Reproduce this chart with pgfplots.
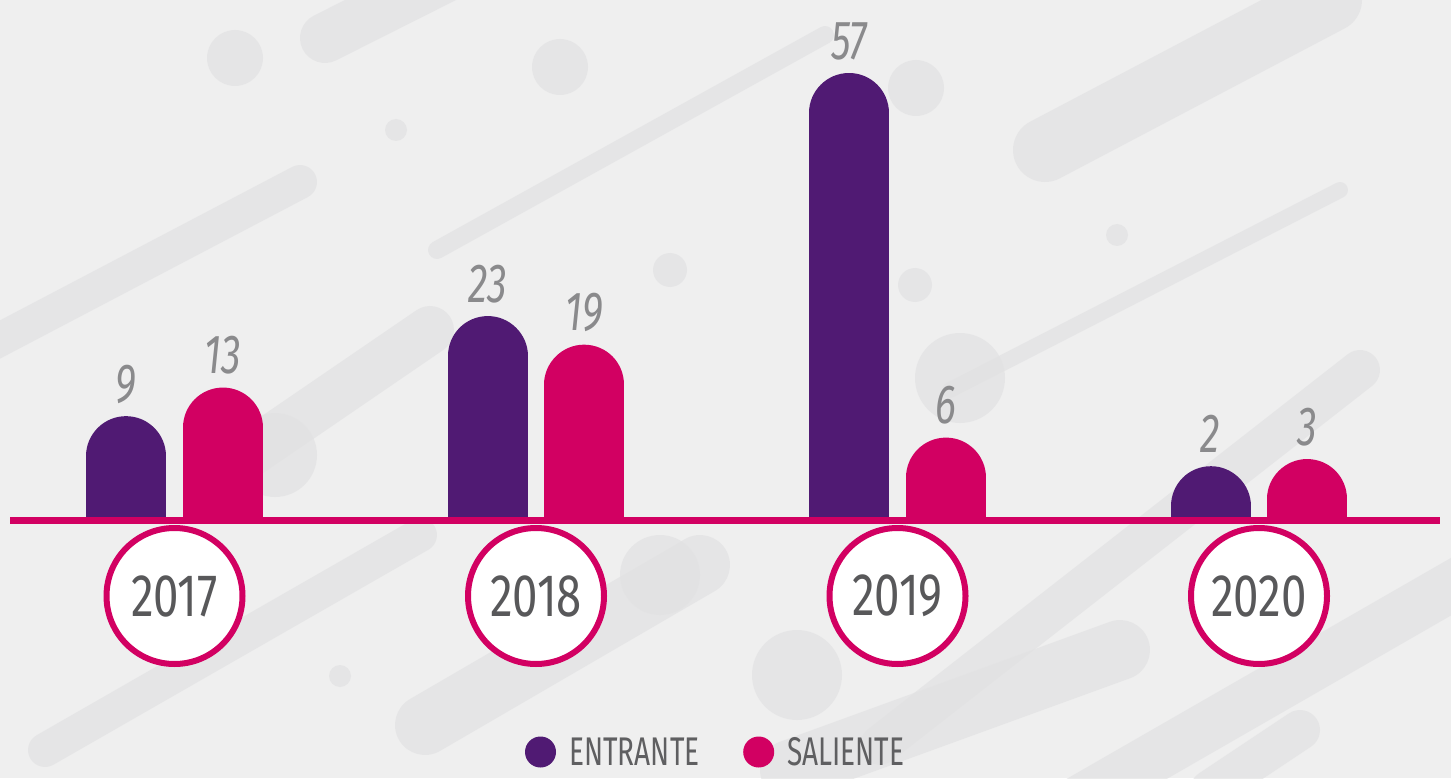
\documentclass[border=0pt]{standalone}
\usepackage{pgfplots}
\pgfplotsset{compat=1.18}
\usepackage{pgfplotstable}
\usepackage{fontspec}
\newfontfamily\valfont[FakeStretch=0.72]{Fira Sans}
\newfontfamily\yearfont[FakeStretch=0.76]{Fira Sans}
\newfontfamily\legfont[FakeStretch=0.7]{Fira Sans}
\definecolor{cpurple}{HTML}{501A73}
\definecolor{cmag}{HTML}{D20062}
\definecolor{valgray}{HTML}{8A8A8C}
\definecolor{yeargray}{HTML}{58585A}
\definecolor{leggray}{HTML}{5F5F61}
\definecolor{bgc}{HTML}{EFEFEF}
\definecolor{deco}{HTML}{E2E2E3}
\pgfplotstableread{
year entrante saliente
2017 9 13
2018 23 19
2019 57 6
2020 2 3
}\datatab
\begin{document}
\begin{tikzpicture}
\useasboundingbox (0,0) rectangle (725.5pt,389pt);
\fill[bgc] (0,0) rectangle (725.5pt,389pt);
\begin{scope}[shift={(0,389pt)},x=0.5pt,y=-0.5pt]
 \begin{scope}[draw=deco, fill=deco, opacity=0.7, line cap=round]
  \draw[line width=25pt] (325,38) -- (480,-40);
  \draw[line width=17pt] (-20,350) -- (300,182);
  \draw[line width=9pt] (437,250) -- (825,35);
  \draw[line width=32pt] (1045,150) -- (1330,0);
  \draw[line width=8pt] (950,390) -- (1340,190);
  \draw[line width=24pt] (240,460) -- (430,330);
  \draw[line width=17pt] (45,750) -- (420,535);
  \draw[line width=30pt] (425,725) -- (700,565);
  \draw[line width=20pt] (880,745) -- (1360,370);
  \draw[line width=25pt] (1080,800) -- (1480,570);
  \draw[line width=30pt] (790,770) -- (1120,650);
  \draw[line width=20pt] (1210,790) -- (1300,730);
  \fill (235,58) circle[radius=28];
  \fill (560,67) circle[radius=28];
  \fill (396,130) circle[radius=11];
  \fill (916,88) circle[radius=28];
  \fill (670,270) circle[radius=17];
  \fill (915,285) circle[radius=17];
  \fill (1117,235) circle[radius=11];
  \fill (275,455) circle[radius=42];
  \fill (960,378) circle[radius=45];
  \fill (340,676) circle[radius=11];
  \fill (797,675) circle[radius=45];
  \fill (660,575) circle[radius=40];
 \end{scope}
\end{scope}
\begin{axis}[
  at={(-3.125pt,128.75pt)}, anchor=south west,
  scale only axis, width=723pt, height=268.1pt,
  xmin=2016.5, xmax=2020.5, ymin=0, ymax=75,
  hide axis, clip mode=individual,
  /pgf/number format/assume math mode=true,
  nodes near coords,
  nodes near coords style={font=\valfont\itshape\fontsize{27.5pt}{30pt}\selectfont, text=valgray, anchor=base, yshift=27pt, line width=0.4pt},
]
\addplot[ycomb, draw=cpurple, line width=40pt, line cap=round, mark=none]
  table[x expr=\thisrow{year}-0.134, y=entrante] {\datatab};
\addplot[ycomb, draw=cmag, line width=40pt, line cap=round, mark=none]
  table[x expr=\thisrow{year}+0.134, y=saliente] {\datatab};
\end{axis}
\begin{scope}[shift={(0,389pt)},x=0.5pt,y=-0.5pt]
 \draw[cmag, line width=3.75pt] (10,520.5) -- (1440,520.5);
 \foreach \yr [count=\i from 0] in {2017,2018,2019,2020}{
   \draw[cmag, line width=3pt, fill=white] (174.5+361.5*\i,596) circle[radius=68];
   \node[text=yeargray, font=\yearfont\fontsize{30pt}{32pt}\selectfont] at (174.5+361.5*\i,596) {\yr};
 }
 \fill[cpurple] (540.5,752) circle[radius=15.5];
 \node[anchor=base west, inner sep=0pt, text=leggray, font=\legfont\fontsize{20pt}{22pt}\selectfont] at (569,765) {ENTRANTE};
 \fill[cmag] (758.7,752) circle[radius=15.5];
 \node[anchor=base west, inner sep=0pt, text=leggray, font=\legfont\fontsize{20pt}{22pt}\selectfont] at (787,765) {SALIENTE};
\end{scope}
\end{tikzpicture}
\end{document}
